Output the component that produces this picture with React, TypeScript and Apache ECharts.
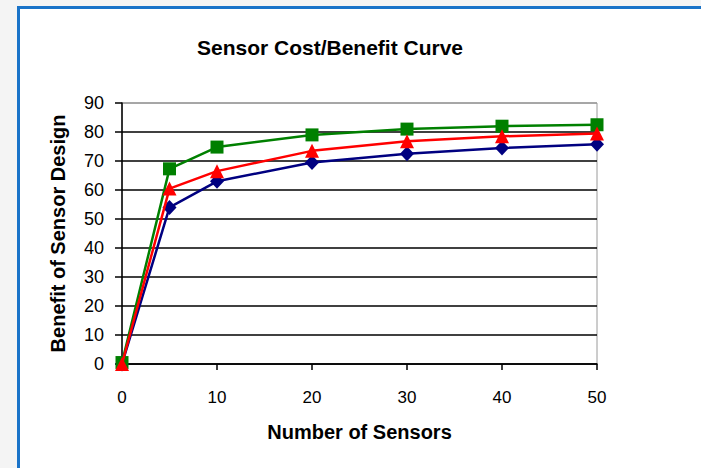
import React, { useEffect, useRef } from "react";
import * as echarts from "echarts";

const sensors = [0, 5, 10, 20, 30, 40, 50];
const benefitBlue = [0, 54, 63, 69.5, 72.5, 74.5, 75.8];
const benefitGreen = [0.5, 67.3, 74.8, 79, 81, 82, 82.5];
const benefitRed = [0, 60.5, 66.5, 73.5, 76.8, 78.5, 79.5];
const yTicks = [0, 10, 20, 30, 40, 50, 60, 70, 80, 90];

const FONT = "'Liberation Sans', Arial, sans-serif";

export default function App() {
  const ref = useRef<HTMLDivElement>(null);
  useEffect(() => {
    if (!ref.current) return;
    const chart = echarts.init(ref.current, undefined, { renderer: "svg" });
    const pts = (ys: number[]) => sensors.map((x, i) => [x, ys[i]]);
    chart.setOption({
      animation: false,
      backgroundColor: "#f4f4f4",
      graphic: [
        { type: "rect", z: -10, shape: { x: 18, y: 7, width: 700, height: 480 }, style: { fill: "#ffffff" } },
        { type: "rect", z: -9, shape: { x: 17, y: 6, width: 3, height: 470 }, style: { fill: "#1a73c8" } },
        { type: "rect", z: -9, shape: { x: 17, y: 6, width: 700, height: 3 }, style: { fill: "#1a73c8" } },
      ],
      title: {
        text: "Sensor Cost/Benefit Curve",
        left: 325,
        top: 32,
        textAlign: "center",
        textStyle: { fontFamily: FONT, fontWeight: "bold", fontSize: 21, color: "#000" },
      },
      grid: {
        left: 122,
        right: 104,
        top: 103,
        bottom: 104,
        show: true,
        borderColor: "#9a9a9a",
        borderWidth: 1,
        backgroundColor: "transparent",
      },
      xAxis: {
        type: "value",
        min: 0,
        max: 50,
        interval: 10,
        name: "Number of Sensors",
        nameLocation: "middle",
        nameGap: 58,
        nameTextStyle: { fontFamily: FONT, fontWeight: "bold", fontSize: 20, color: "#000", verticalAlign: "top" },
        axisLine: { show: true, lineStyle: { color: "#000", width: 1.5 } },
        axisTick: { show: true, length: 6, lineStyle: { color: "#000", width: 1.5 } },
        axisLabel: { fontFamily: FONT, fontSize: 17, color: "#000", margin: 25 },
        splitLine: { show: false },
      },
      yAxis: {
        type: "value",
        min: 0,
        max: 90,
        interval: 10,
        name: "Benefit of Sensor Design",
        nameLocation: "middle",
        nameGap: 54,
        nameTextStyle: { fontFamily: FONT, fontWeight: "bold", fontSize: 20, color: "#000" },
        axisLine: { show: true, lineStyle: { color: "#000", width: 1.5 } },
        axisTick: { show: true, length: 7, lineStyle: { color: "#000", width: 1.5 } },
        axisLabel: {
          fontFamily: FONT,
          fontSize: 18,
          color: "#000",
          margin: 18,
          formatter: (v: number) => (yTicks.includes(v) ? String(v) : ""),
        },
        splitLine: {
          show: true,
          lineStyle: {
            color: ["#000", "#000", "#000", "#000", "#000", "#000", "#000", "#000", "#000", "#9a9a9a"],
            width: 1.5,
          },
        },
      },
      series: [
        {
          type: "line",
          name: "Blue",
          data: pts(benefitBlue),
          symbol: "diamond",
          symbolSize: [14, 15],
          lineStyle: { color: "#000080", width: 2.5 },
          itemStyle: { color: "#000080" },
          z: 3,
        },
        {
          type: "line",
          name: "Green",
          data: pts(benefitGreen),
          symbol: "rect",
          symbolSize: 13,
          lineStyle: { color: "#008000", width: 2.5 },
          itemStyle: { color: "#008000" },
          z: 4,
        },
        {
          type: "line",
          name: "Red",
          data: pts(benefitRed),
          symbol: "triangle",
          symbolSize: [14, 14],
          lineStyle: { color: "#ff0000", width: 2.5 },
          itemStyle: { color: "#ff0000" },
          z: 5,
        },
      ],
    });
    return () => chart.dispose();
  }, []);
  return (
    <div
      ref={ref}
      style={{ position: "absolute", left: 0, top: 0, width: 701, height: 468 }}
    />
  );
}
